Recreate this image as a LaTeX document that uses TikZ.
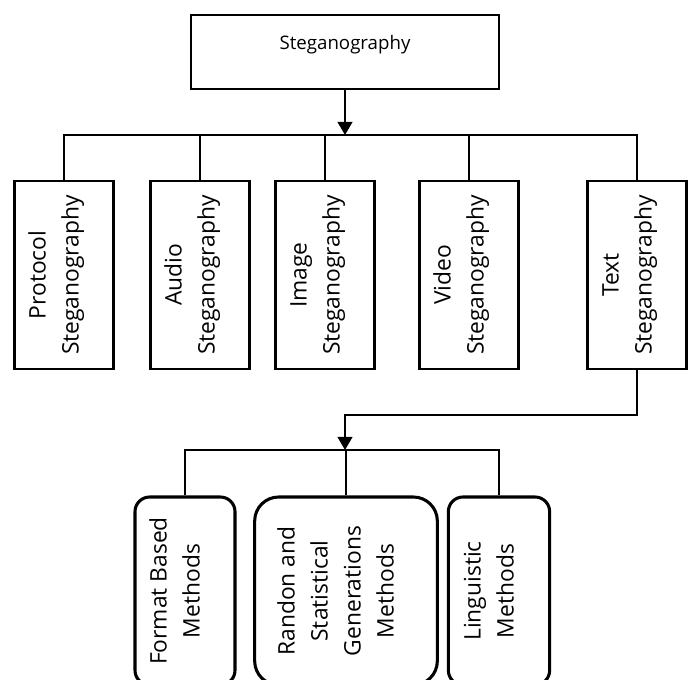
\documentclass[tikz,border=0pt]{standalone}
\usepackage{fontspec}
\setmainfont{Open Sans}
\usetikzlibrary{arrows.meta}
\newcommand{\boxtext}[1]{\raisebox{2pt}[0pt][0pt]{\begin{tabular}{@{}c@{}}#1\end{tabular}}}
\begin{document}
\begin{tikzpicture}[x=0.75pt, y=-0.75pt, line width=1.4pt,
   box_style/.style={draw=black, line width=1.6pt, rotate=90, inner sep=0pt,
      minimum width=141pt, minimum height=74.25pt, font=\fontsize{17.1}{24.75}\selectfont},
   method_style/.style={draw=black, line width=2.3pt, rounded corners=11pt, rotate=90,
      inner sep=0pt, minimum width=141pt, font=\fontsize{17.1}{24.75}\selectfont},
   arrow_style/.style={-{Triangle[length=9.75pt,width=11pt]}}]
	  \useasboundingbox (0,0) rectangle (692,680);
	  \clip (0,0) rectangle (692,680);

	  \node [draw=black, line width=1.6pt, inner sep=0pt, minimum width=231pt, minimum height=55.5pt,
	     font=\fontsize{14}{18}\selectfont] (steg) at (345,52) {\boxtext{Steganography}};

	  \node [box_style] (proto) at (64,275) {\boxtext{Protocol\\Steganography}};
	  \node [box_style] (audio) at (200,275) {\boxtext{Audio\\Steganography}};
	  \node [box_style] (image) at (325,275) {\boxtext{Image\\Steganography}};
	  \node [box_style] (video) at (469,275) {\boxtext{Video\\Steganography}};
	  \node [box_style] (text) at (637,275) {\boxtext{Text\\Steganography}};

	  \coordinate (bus_top) at (345,135);
	  \draw [arrow_style] (steg.south) -- (bus_top);
	  \foreach \n in {proto,audio,image,video,text}
	    \draw (\n.east) |- (bus_top);

	  \node [method_style, minimum height=75pt] (format) at (185,591) {\boxtext{Format Based\\Methods}};
	  \node [method_style, minimum height=137pt, rounded corners=18pt] (randon) at (346,591)
	     {\boxtext{Randon and\\Statistical\\Generations\\Methods}};
	  \node [method_style, minimum height=76pt] (ling) at (499,591) {\boxtext{Linguistic\\Methods}};

	  \coordinate (bus_low) at (345,450);
	  \draw [arrow_style] (text.west) -- ++(0,45) -| (bus_low);
	  \foreach \n in {format,randon,ling}
	    \draw (\n.east) |- (bus_low);

	\end{tikzpicture}
\end{document}
